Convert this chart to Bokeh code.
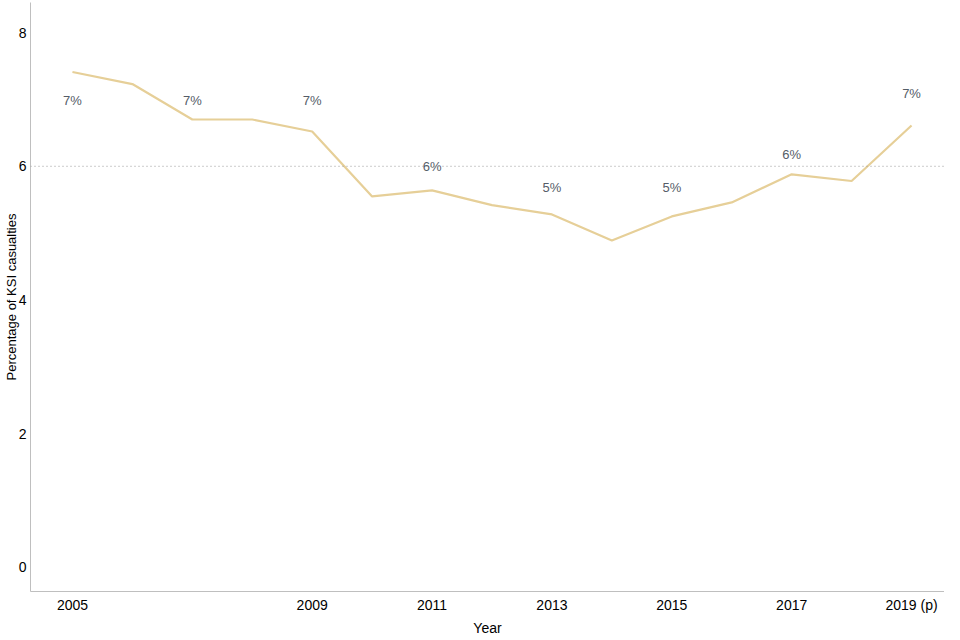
from bokeh.plotting import figure
from bokeh.models import FixedTicker, Span, ColumnDataSource
from bokeh.core.properties import value
from bokeh.embed import file_html
from bokeh.resources import INLINE

years = [2005, 2006, 2007, 2008, 2009, 2010, 2011, 2012, 2013, 2014, 2015, 2016, 2017, 2018, 2019]
pct = [7.41, 7.23, 6.70, 6.70, 6.52, 5.55, 5.64, 5.42, 5.28, 4.89, 5.25, 5.46, 5.88, 5.78, 6.61]
tick_years = [2005, 2009, 2011, 2013, 2015, 2017, 2019]
tick_labels = ["2005", "2009", "2011", "2013", "2015", "2017", "2019 (p)"]
label_years = [2005, 2007, 2009, 2011, 2013, 2015, 2017, 2019]
label_texts = ["7%", "7%", "7%", "6%", "5%", "5%", "6%", "7%"]
reference_level = 6

# style: vertical shift of each label relative to its point (data units)
label_shift = [-0.42, 0.29, 0.47, 0.35, 0.41, 0.44, 0.30, 0.48]

FONT = "Liberation Sans"

p = figure(width=944, height=638, output_backend="svg", toolbar_location=None,
           x_range=(2004.30, 2019.55), y_range=(-0.36, 8.45),
           min_border_left=0, min_border_right=0, min_border_top=2, min_border_bottom=0)
p.outline_line_color = None
p.xgrid.visible = False
p.ygrid.visible = False

p.line(years, pct, line_color="#e6cf98", line_width=2.2)

p.add_layout(Span(location=reference_level, dimension="width", line_color="#9a9a9a",
                  line_dash="1 3", line_width=1))

val_by_year = dict(zip(years, pct))
src = ColumnDataSource(dict(
    x=label_years,
    y=[val_by_year[yr] + s for yr, s in zip(label_years, label_shift)],
    t=label_texts,
))
p.text(x="x", y="y", text="t", source=src, text_align="center", text_baseline="middle",
       text_font=value(FONT), text_font_size="13px", text_color="#555d68")

p.xaxis.ticker = FixedTicker(ticks=tick_years)
p.xaxis.major_label_overrides = {y: l for y, l in zip(tick_years, tick_labels)}
p.yaxis.ticker = FixedTicker(ticks=[0, 2, 4, 6, 8])

for ax in (p.xaxis, p.yaxis):
    ax.axis_line_color = "#bfbfbf"
    ax.major_tick_line_color = None
    ax.minor_tick_line_color = None
    ax.major_tick_out = 0
    ax.major_tick_in = 0
    ax.minor_tick_out = 0
    ax.minor_tick_in = 0
    ax.major_label_text_font = FONT
    ax.major_label_text_font_size = "14px"
    ax.major_label_text_color = "#000000"
    ax.axis_label_text_font = FONT
    ax.axis_label_text_font_style = "normal"
    ax.axis_label_text_color = "#000000"

p.xaxis.axis_label = "Year"
p.yaxis.axis_label = "Percentage of KSI casualties"
p.xaxis.axis_label_text_font_size = "14px"
p.yaxis.axis_label_text_font_size = "13px"
p.xaxis.major_label_standoff = 5
p.xaxis.axis_label_standoff = 4
p.yaxis.major_label_standoff = 4
p.yaxis.axis_label_standoff = -3

open("out.html", "w").write(file_html(p, INLINE))
